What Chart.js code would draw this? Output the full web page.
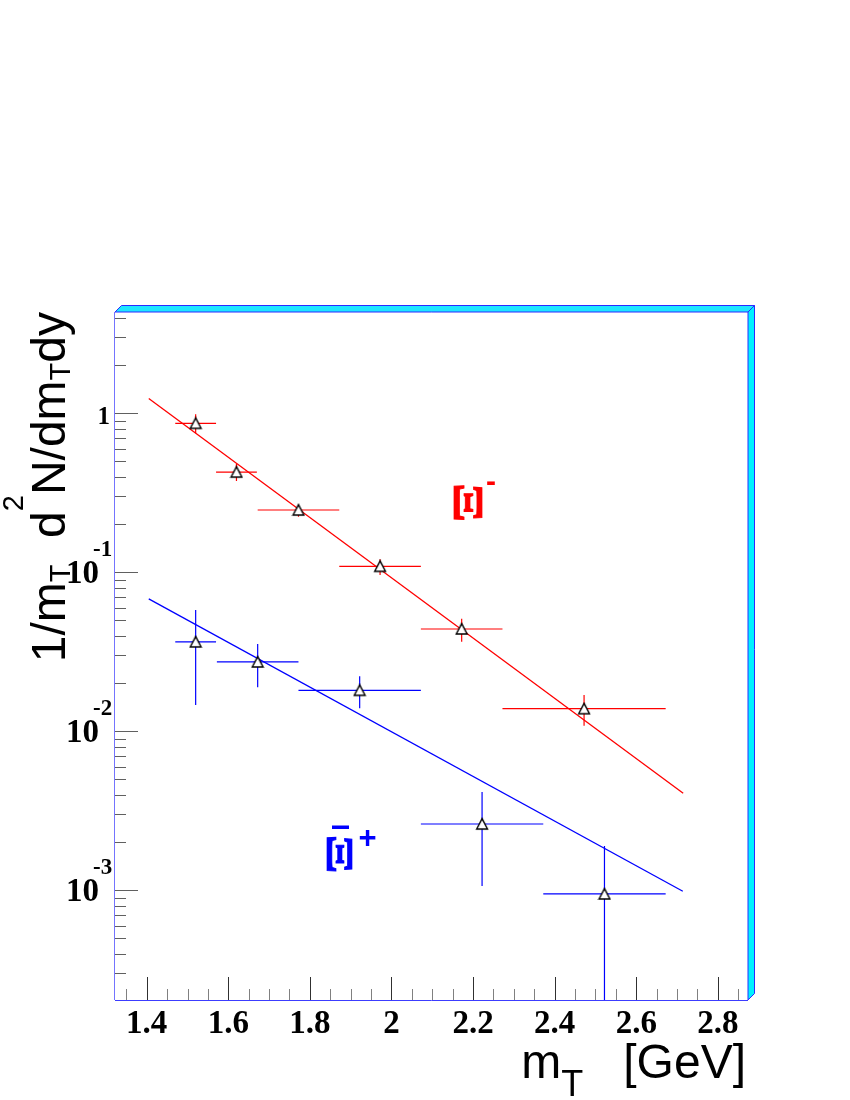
<!DOCTYPE html>
<html><head><meta charset="utf-8">
<script src="https://cdn.jsdelivr.net/npm/chart.js@4/dist/chart.umd.min.js"></script>
<style>html,body{margin:0;padding:0;background:#fff}canvas{display:block}</style>
</head><body>
<canvas id="c" width="850" height="1100"></canvas>
<script>
// ---- data ----
const xiMinusX    = [1.52, 1.62, 1.772, 1.972, 2.172, 2.472];
const xiMinusXErr = [0.05, 0.05, 0.10, 0.10, 0.10, 0.20];
const xiMinusY    = [0.865, 0.427, 0.2465, 0.109, 0.044, 0.01387];
const xiMinusYHi  = [0.986, 0.482, 0.259, 0.1208, 0.0511, 0.0169];
const xiMinusYLo  = [0.75, 0.375, 0.224, 0.0962, 0.0366, 0.01084];

const xiPlusX     = [1.52, 1.672, 1.922, 2.222, 2.522];
const xiPlusXErr  = [0.05, 0.10, 0.15, 0.15, 0.15];
const xiPlusY     = [0.0365, 0.0273, 0.0181, 0.00261, 0.000948];
const xiPlusYHi   = [0.058, 0.0354, 0.0222, 0.00415, 0.0019];
const xiPlusYLo   = [0.01463, 0.0189, 0.01395, 0.001064, 0.0001];

const fitMinusX = [1.405, 2.715];
const fitMinusY = [1.24, 0.00407];
const fitPlusX  = [1.405, 2.714];
const fitPlusY  = [0.068, 0.000986];

const xMin = 1.3223, xMax = 2.8738;
const yMin = 2.04e-4, yMax = 4.34;

const xTickVals   = [1.4, 1.6, 1.8, 2.0, 2.2, 2.4, 2.6, 2.8];
const xTickLabels = ["1.4", "1.6", "1.8", "2", "2.2", "2.4", "2.6", "2.8"];
const yLabelVals  = [1, 0.1, 0.01, 0.001];
const yLabelBase  = ["1", "10", "10", "10"];
const yLabelExp   = ["", "-1", "-2", "-3"];

const xTitleRuns = [["m", "main"], ["T", "sub"], ["   [GeV]", "main"]];
const yTitleRuns = [["1/m", "main"], ["T", "sub"], ["  d", "main"], ["2", "sup"], ["N/dm", "main"], ["T", "sub"], ["dy", "main"]];
const labelMinus = ["\u039E", "-"];
const labelPlus  = ["\u039E", "+"];

// ---- helpers ----
const pts = (xs, ys) => xs.map((x, i) => ({x: x, y: ys[i]}));
function triangleImage() {
  const c = document.createElement('canvas');
  c.width = 14; c.height = 14;
  const g = c.getContext('2d');
  g.fillStyle = '#fff'; g.strokeStyle = '#000'; g.lineWidth = 1.4;
  g.beginPath(); g.moveTo(7, 1.6); g.lineTo(1.6, 12); g.lineTo(12.4, 12); g.closePath();
  g.fill(); g.stroke();
  return c;
}
const tri = triangleImage();
const SERIF = "'Liberation Serif', 'Times New Roman', serif";
const SANS = "'Liberation Sans', Arial, sans-serif";

const errorBars = {
  id: 'errorBars',
  beforeDatasetsDraw(chart) {
    const ctx = chart.ctx, xs = chart.scales.x, ys = chart.scales.y, a = chart.chartArea;
    ctx.save();
    ctx.beginPath(); ctx.rect(a.left, a.top, a.right - a.left, a.bottom - a.top); ctx.clip();
    ctx.lineWidth = 1.2;
    const groups = [
      [xiMinusX, xiMinusXErr, xiMinusY, xiMinusYHi, xiMinusYLo, '#ff0000'],
      [xiPlusX, xiPlusXErr, xiPlusY, xiPlusYHi, xiPlusYLo, '#0000ff']
    ];
    for (const [X, XE, Y, YH, YL, col] of groups) {
      ctx.strokeStyle = col;
      for (let i = 0; i < X.length; i++) {
        const px = xs.getPixelForValue(X[i]), py = ys.getPixelForValue(Y[i]);
        ctx.beginPath();
        ctx.moveTo(xs.getPixelForValue(X[i] - XE[i]), py);
        ctx.lineTo(xs.getPixelForValue(X[i] + XE[i]), py);
        ctx.moveTo(px, ys.getPixelForValue(YH[i]));
        ctx.lineTo(px, ys.getPixelForValue(Math.max(YL[i], 1e-6)));
        ctx.stroke();
      }
    }
    ctx.restore();
  }
};

function drawRuns(ctx, runs, fonts, x, y) {
  for (const [t, k] of runs) {
    const f = fonts[k];
    ctx.font = f.font;
    ctx.fillText(t, x, y + f.dy);
    x += ctx.measureText(t).width;
  }
}
function runsWidth(ctx, runs, fonts) {
  let w = 0;
  for (const [t, k] of runs) { ctx.font = fonts[k].font; w += ctx.measureText(t).width; }
  return w;
}

const frame = {
  id: 'frame',
  beforeDraw(chart) {
    const ctx = chart.ctx;
    ctx.save(); ctx.fillStyle = '#fff'; ctx.fillRect(0, 0, chart.width, chart.height); ctx.restore();
  },
  afterDatasetsDraw(chart) {
    const ctx = chart.ctx, xs = chart.scales.x, ys = chart.scales.y;
    const {left, right, top, bottom} = chart.chartArea;
    ctx.save();
    // 3D cyan frame (top and right)
    const d = 6.5;
    ctx.lineWidth = 1;
    ctx.strokeStyle = '#2a2aff';
    ctx.fillStyle = '#1ee6ff';
    ctx.beginPath();
    ctx.moveTo(left, top); ctx.lineTo(left + d, top - d); ctx.lineTo(right + d, top - d); ctx.lineTo(right, top); ctx.closePath();
    ctx.fill(); ctx.stroke();
    ctx.fillStyle = '#00f2ff';
    ctx.beginPath();
    ctx.moveTo(right, top); ctx.lineTo(right + d, top - d); ctx.lineTo(right + d, bottom - d); ctx.lineTo(right, bottom); ctx.closePath();
    ctx.fill(); ctx.stroke();
    // axes lines
    ctx.strokeStyle = '#7474ff';
    ctx.beginPath(); ctx.moveTo(left - 0.5, top); ctx.lineTo(left - 0.5, bottom); ctx.stroke();
    ctx.strokeStyle = '#3c3cff';
    ctx.beginPath(); ctx.moveTo(left, bottom + 0.5); ctx.lineTo(right, bottom + 0.5); ctx.stroke();
    // y ticks
    ctx.strokeStyle = '#606060';
    for (let e = -4; e <= 1; e++) {
      for (let m = 1; m <= 9; m++) {
        const v = m * Math.pow(10, e);
        if (v < yMin || v > yMax) continue;
        const y = Math.round(ys.getPixelForValue(v)) + 0.5;
        const len = m === 1 ? 23 : 11;
        ctx.beginPath(); ctx.moveTo(left, y); ctx.lineTo(left + len, y); ctx.stroke();
      }
    }
    // x ticks
    for (let k = 0; k * 0.05 + 1.35 <= xMax + 1e-9; k++) {
      const v = 1.35 + k * 0.05;
      const x = Math.round(xs.getPixelForValue(v)) + 0.5;
      const major = (k % 4) === 1;
      ctx.strokeStyle = major ? '#303030' : '#808080';
      const len = major ? 23 : 11;
      ctx.beginPath(); ctx.moveTo(x, bottom); ctx.lineTo(x, bottom - len); ctx.stroke();
    }
    // x tick labels
    ctx.fillStyle = '#000';
    ctx.font = 'bold 33px ' + SERIF;
    ctx.textAlign = 'center'; ctx.textBaseline = 'alphabetic';
    xTickVals.forEach((v, i) => ctx.fillText(xTickLabels[i], xs.getPixelForValue(v), bottom + 33));
    // y tick labels
    yLabelVals.forEach((v, i) => {
      const y = ys.getPixelForValue(v);
      if (!yLabelExp[i]) {
        ctx.font = 'bold 25px ' + SERIF; ctx.textAlign = 'right';
        ctx.fillText(yLabelBase[i], left - 5, y + 11);
      } else {
        ctx.font = 'bold 33px ' + SERIF; ctx.textAlign = 'right';
        ctx.fillText(yLabelBase[i], left - 16, y + 11);
        ctx.font = 'bold 23px ' + SERIF; ctx.textAlign = 'left';
        ctx.fillText(yLabelExp[i], left - 22, y - 16);
      }
    });
    // x title
    ctx.textAlign = 'left';
    const xf = {main: {font: '48px ' + SANS, dy: 0}, sub: {font: '36px ' + SANS, dy: 18}};
    const xw = runsWidth(ctx, xTitleRuns, xf);
    drawRuns(ctx, xTitleRuns, xf, right - 2 - xw, bottom + 78);
    // y title
    const yf = {main: {font: '48px ' + SANS, dy: 0}, sub: {font: '29px ' + SANS, dy: 5}, sup: {font: '29px ' + SANS, dy: -42}};
    const yw = runsWidth(ctx, yTitleRuns, yf);
    ctx.save();
    ctx.translate(65, top);
    ctx.rotate(-Math.PI / 2);
    drawRuns(ctx, yTitleRuns, yf, -yw, 0);
    ctx.restore();
    // particle labels: rotated Xi glyph, sized to the reference box
    function xiLabel(cx, cy, boxW, boxH, color, lab, supX, supY, supFont, bar) {
      ctx.save();
      ctx.fillStyle = color;
      ctx.strokeStyle = color;
      ctx.font = 'bold 46px ' + SERIF;
      const m = ctx.measureText(lab[0]);
      const w = m.actualBoundingBoxLeft + m.actualBoundingBoxRight;
      const h = m.actualBoundingBoxAscent + m.actualBoundingBoxDescent;
      ctx.translate(cx, cy);
      ctx.rotate(Math.PI / 2);
      ctx.scale((boxH - 1) / w, (boxW - 1) / h);
      ctx.textAlign = 'left'; ctx.textBaseline = 'alphabetic';
      ctx.lineWidth = 0.8;
      const tx = -w / 2 + m.actualBoundingBoxLeft, ty = h / 2 - m.actualBoundingBoxDescent;
      ctx.fillText(lab[0], tx, ty);
      ctx.strokeText(lab[0], tx, ty);
      ctx.restore();
      ctx.save();
      ctx.fillStyle = color;
      ctx.font = supFont;
      ctx.textAlign = 'center'; ctx.textBaseline = 'middle';
      ctx.fillText(lab[1], supX, supY);
      if (bar) {
        ctx.fillRect(bar[0], bar[1], bar[2], bar[3]);
      }
      ctx.restore();
    }
    xiLabel(467.5, 502.5, 29, 35, '#ff0000', labelMinus, 491, 483, 'bold 30px ' + SANS, null);
    xiLabel(340, 854, 27, 35, '#0000ff', labelPlus, 367.5, 839, 'bold 31px ' + SANS, [332, 825.5, 17, 3.5]);
    ctx.restore();
  }
};

new Chart(document.getElementById('c'), {
  type: 'scatter',
  data: {
    datasets: [
      {data: pts(xiMinusX, xiMinusY), pointStyle: tri, pointRadius: 7, showLine: false, order: 0},
      {data: pts(xiPlusX, xiPlusY), pointStyle: tri, pointRadius: 7, showLine: false, order: 0},
      {data: pts(fitMinusX, fitMinusY), showLine: true, borderColor: '#ff0000', borderWidth: 1.3, pointRadius: 0, fill: false, order: 1},
      {data: pts(fitPlusX, fitPlusY), showLine: true, borderColor: '#0000ff', borderWidth: 1.3, pointRadius: 0, fill: false, order: 1}
    ]
  },
  options: {
    responsive: false,
    animation: false,
    devicePixelRatio: 1,
    layout: {padding: {left: 115, top: 312, right: 102, bottom: 100}},
    plugins: {legend: {display: false}, tooltip: {enabled: false}, title: {display: false}},
    scales: {
      x: {type: 'linear', min: xMin, max: xMax, display: false},
      y: {type: 'logarithmic', min: yMin, max: yMax, display: false}
    }
  },
  plugins: [errorBars, frame]
});
</script>
</body></html>
